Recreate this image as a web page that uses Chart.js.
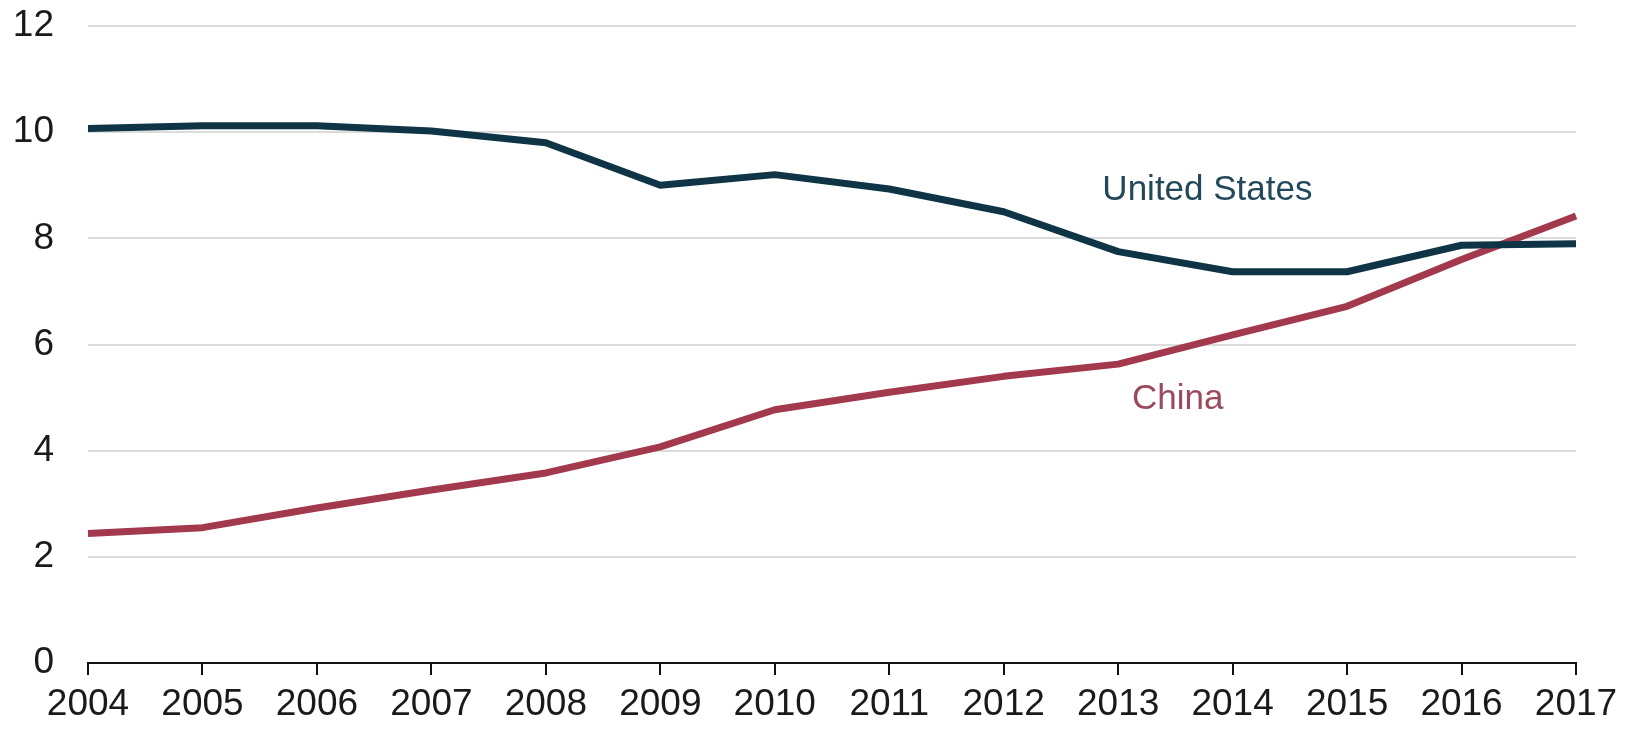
<!DOCTYPE html>
<html>
<head>
<meta charset="utf-8">
<script src="https://cdn.jsdelivr.net/npm/chart.js@4.4.1/dist/chart.umd.min.js"></script>
<style>
  html, body { margin: 0; padding: 0; background: #ffffff; }
  #wrap { width: 1632px; height: 731px; position: relative; }
</style>
</head>
<body>
<div id="wrap"><canvas id="c" width="1632" height="731"></canvas></div>
<script>
const years = ['2004','2005','2006','2007','2008','2009','2010','2011','2012','2013','2014','2015','2016','2017'];
const unitedStates = [10.07, 10.12, 10.12, 10.02, 9.8, 9.0, 9.2, 8.93, 8.5, 7.75, 7.37, 7.37, 7.87, 7.9];
const china = [2.44, 2.55, 2.92, 3.26, 3.58, 4.07, 4.77, 5.1, 5.4, 5.63, 6.18, 6.72, 7.6, 8.42];
const yTicks = [0, 2, 4, 6, 8, 10, 12];
const seriesLabels = [
  { text: 'United States', x: 9.78, y: 8.72, color: '#23485a' },
  { text: 'China', x: 9.52, y: 4.78, color: '#9a4a5c' }
];

const labelPlugin = {
  id: 'seriesLabels',
  afterDatasetsDraw(chart) {
    const ctx = chart.ctx;
    const xs = chart.scales.x, ys = chart.scales.y;
    ctx.save();
    ctx.font = '35px "Liberation Sans", Arial, sans-serif';
    ctx.textAlign = 'center';
    ctx.textBaseline = 'alphabetic';
    seriesLabels.forEach(l => {
      ctx.fillStyle = l.color;
      ctx.fillText(l.text, xs.getPixelForValue(l.x), ys.getPixelForValue(l.y));
    });
    ctx.restore();
  }
};

new Chart(document.getElementById('c'), {
  type: 'line',
  data: {
    labels: years,
    datasets: [
      { label: 'United States', data: unitedStates, borderColor: '#0e3446', borderWidth: 7, pointRadius: 0, tension: 0, borderJoinStyle: 'round', borderCapStyle: 'butt' },
      { label: 'China', data: china, borderColor: '#a3394c', borderWidth: 7, pointRadius: 0, tension: 0, borderJoinStyle: 'round', borderCapStyle: 'butt' }
    ]
  },
  options: {
    responsive: false,
    animation: false,
    devicePixelRatio: 1,
    layout: { padding: { top: 26, right: 56, left: 0, bottom: 0 } },
    plugins: { legend: { display: false }, tooltip: { enabled: false } },
    scales: {
      x: {
        offset: false,
        grid: { drawOnChartArea: false, drawTicks: true, tickLength: 12, color: '#111', lineWidth: 2 },
        border: { display: true, color: '#111', width: 2 },
        ticks: { color: '#1a1a1a', font: { family: '"Liberation Sans", Arial, sans-serif', size: 37 }, padding: 8, maxRotation: 0, autoSkip: false },
        afterFit(scale) { scale.height = 68; scale.paddingLeft = 0; scale.paddingRight = 0; }
      },
      y: {
        min: 0, max: 12,
        afterBuildTicks(scale) { scale.ticks = yTicks.map(v => ({ value: v })); },
        grid: { color: ctx => ctx.tick && ctx.tick.value === 0 ? 'rgba(0,0,0,0)' : '#dcdcdc', lineWidth: 2, drawTicks: false },
        border: { display: false },
        ticks: { color: '#1a1a1a', font: { family: '"Liberation Sans", Arial, sans-serif', size: 37 }, padding: 34 },
        afterFit(scale) { scale.width = 88; scale.paddingTop = 0; scale.paddingBottom = 0; }
      }
    }
  },
  plugins: [labelPlugin]
});
</script>
</body>
</html>
